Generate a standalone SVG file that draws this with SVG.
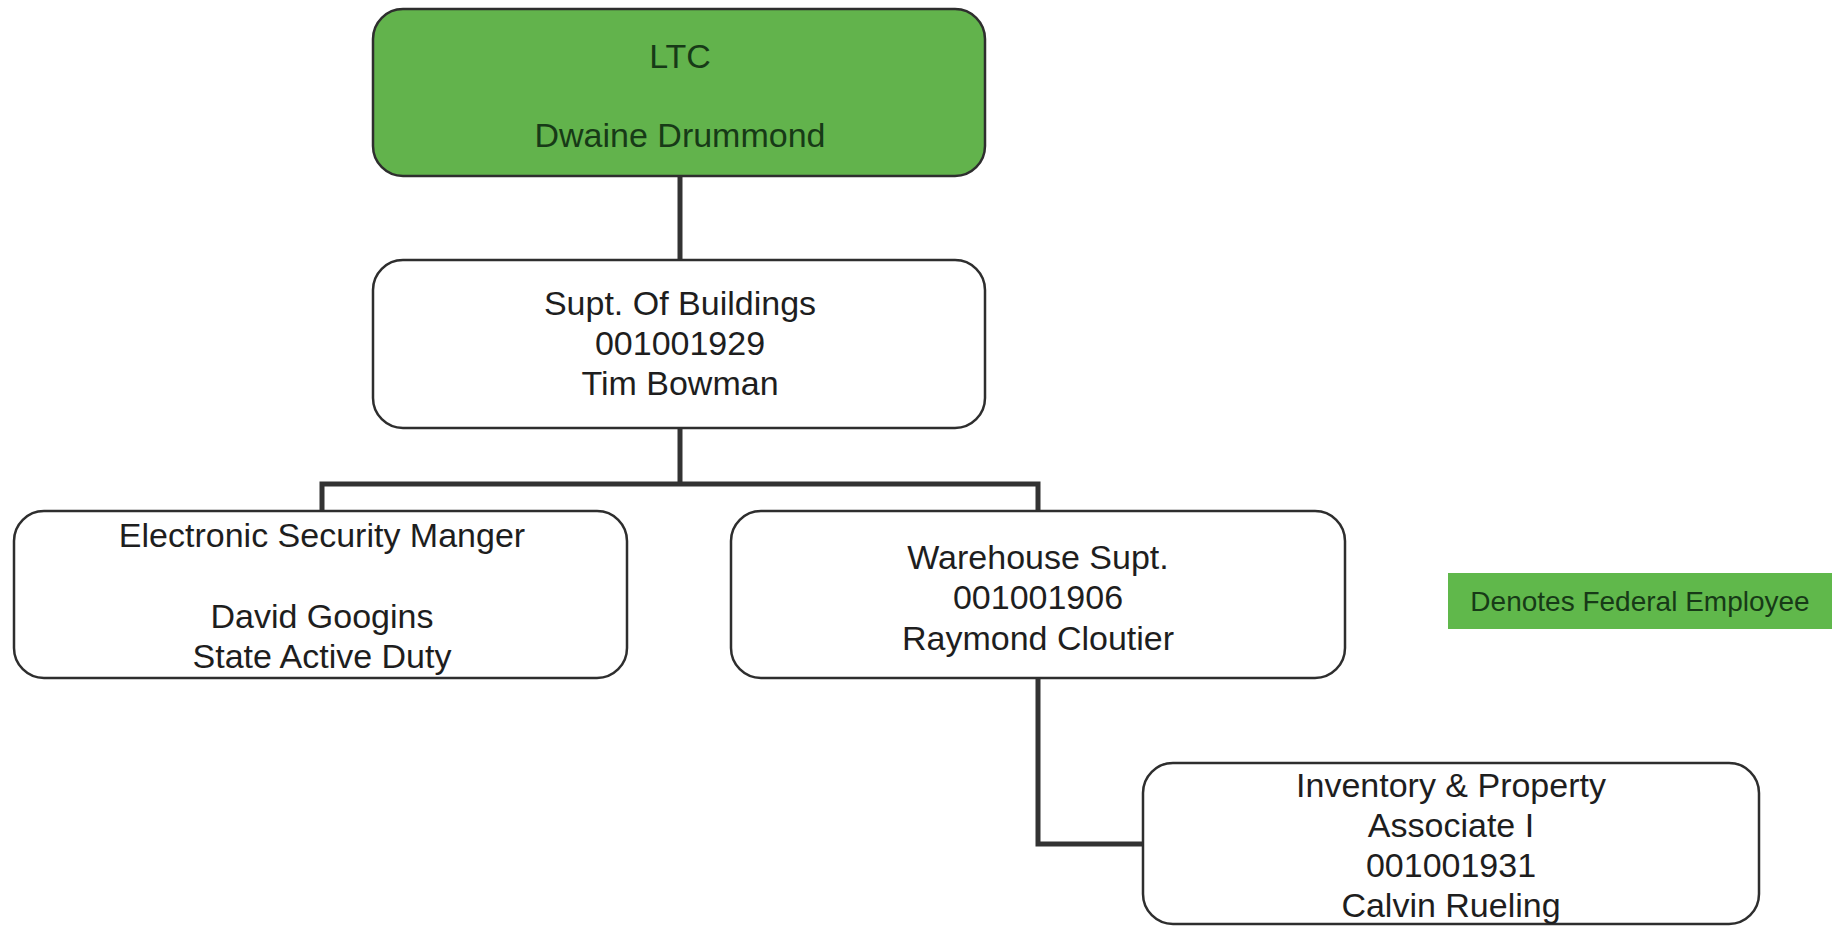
<svg xmlns="http://www.w3.org/2000/svg" width="1839" height="927" viewBox="0 0 1839 927">
  <style>
    .box { fill: #ffffff; stroke: #2e2e2e; stroke-width: 2.5; }
    .fed { fill: #62b34c; stroke: #2e2e2e; stroke-width: 2.5; }
    .label { font-family: "Liberation Sans", Arial, sans-serif; font-size: 34px; fill: #1e1e1e; text-anchor: middle; }
    .fedlabel { font-family: "Liberation Sans", Arial, sans-serif; font-size: 34px; fill: #173a17; text-anchor: middle; }
    .link { fill: none; stroke: #333333; stroke-width: 5; stroke-linejoin: miter; }
    .legend { fill: #60b84b; }
    .legendtext { font-family: "Liberation Sans", Arial, sans-serif; font-size: 28px; fill: #173a17; text-anchor: middle; }
  </style>

  <rect width="1839" height="927" fill="#ffffff"/>

  <!-- reporting lines -->
  <g id="connectors">
    <path class="link" d="M680 176 V260"/>
    <path class="link" d="M680 428 V484"/>
    <path class="link" d="M322 511 V484 H1038 V511"/>
    <path class="link" d="M1038 678 V844 H1143"/>
  </g>

  <g id="ltc">
    <rect class="fed" x="373" y="9" width="612" height="167" rx="30"/>
    <text class="fedlabel" x="680" y="68">LTC</text>
    <text class="fedlabel" x="680" y="147">Dwaine Drummond</text>
  </g>

  <g id="supt-buildings">
    <rect class="box" x="373" y="260" width="612" height="168" rx="30"/>
    <text class="label" x="680" y="315">Supt. Of Buildings</text>
    <text class="label" x="680" y="355">001001929</text>
    <text class="label" x="680" y="395">Tim Bowman</text>
  </g>

  <g id="security-manager">
    <rect class="box" x="14" y="511" width="613" height="167" rx="30"/>
    <text class="label" x="322" y="547">Electronic Security Manger</text>
    <text class="label" x="322" y="628">David Googins</text>
    <text class="label" x="322" y="668">State Active Duty</text>
  </g>

  <g id="warehouse-supt">
    <rect class="box" x="731" y="511" width="614" height="167" rx="30"/>
    <text class="label" x="1038" y="569">Warehouse Supt.</text>
    <text class="label" x="1038" y="609">001001906</text>
    <text class="label" x="1038" y="650">Raymond Cloutier</text>
  </g>

  <g id="inventory-associate">
    <rect class="box" x="1143" y="763" width="616" height="161" rx="30"/>
    <text class="label" x="1451" y="797">Inventory &amp; Property</text>
    <text class="label" x="1451" y="837">Associate I</text>
    <text class="label" x="1451" y="877">001001931</text>
    <text class="label" x="1451" y="917">Calvin Rueling</text>
  </g>

  <g id="legend">
    <rect class="legend" x="1448" y="573" width="384" height="56"/>
    <text class="legendtext" x="1640" y="611">Denotes Federal Employee</text>
  </g>
</svg>
